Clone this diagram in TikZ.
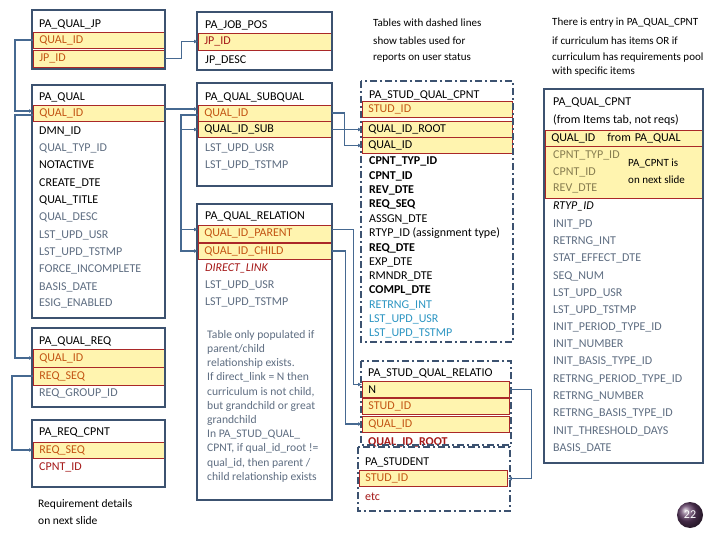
\documentclass[tikz,border=0pt]{standalone}
\usepackage{fontspec}
\setmainfont{Carlito}
\usepackage{xcolor}
\usetikzlibrary{arrows.meta,positioning,calc}
\definecolor{bk}{RGB}{0,0,0}
\definecolor{gy}{RGB}{95,110,130}
\definecolor{or}{RGB}{195,85,20}
\definecolor{dr}{RGB}{165,25,25}
\definecolor{tl}{RGB}{45,150,195}
\definecolor{ol}{RGB}{135,125,80}
\definecolor{bord}{RGB}{60,82,112}
\definecolor{keyfill}{RGB}{255,244,175}
\definecolor{keyln}{RGB}{170,40,40}
\definecolor{lnkc}{RGB}{70,105,145}
\definecolor{badge}{RGB}{95,60,100}
\newcommand{\BK}[1]{\textcolor{bk}{#1}}
\newcommand{\GY}[1]{\textcolor{gy}{#1}}
\newcommand{\OR}[1]{\textcolor{or}{#1}}
\newcommand{\DR}[1]{\textcolor{dr}{#1}}
\newcommand{\TL}[1]{\textcolor{tl}{#1}}
\newcommand{\OL}[1]{\textcolor{ol}{#1}}
\tikzset{
  tbl/.style={draw=bord,line width=2.2pt},
  dtbl/.style={draw=bord,line width=2.4pt,dash pattern=on 7pt off 3pt on 2pt off 3pt},
  key/.style={draw=keyln,fill=keyfill,line width=0.8pt,anchor=west,minimum height=16pt,
    inner xsep=6pt,inner ysep=0pt,text width=#1,align=left},
  fld/.style={anchor=west,inner sep=0pt},
  note/.style={anchor=west,inner sep=0pt,font=\fontsize{11}{13}\selectfont},
  lnk/.style={draw=lnkc,line width=1.3pt,-{Latex[length=4pt,width=4pt]}},
}

\begin{document}
\begin{tikzpicture}[x=1pt,y=-1pt,font=\fontsize{12}{14}\selectfont]
  \useasboundingbox (0,0) rectangle (720,540);
  \fill[white] (0,0) rectangle (720,540);

  % notes on top
  \node[note] (n1) at (373,23) {Tables with dashed lines};
  \node[note] (n2) at (373,41) {show tables used for};
  \node[note] (n3) at (373,58) {reports on user status};
  \node[note] (n4) at (552,23) {There is entry in PA\_QUAL\_CPNT};
  \node[note] (n5) at (552,41) {if curriculum has items OR if};
  \node[note] (n6) at (552,58) {curriculum has requirements pool};
  \node[note] (n7) at (552,72) {with specific items};

  % PA_QUAL_JP
  \node[key=119pt] (jpQual) at (33,40) {\OR{QUAL\_ID}};
  \node[key=119pt,minimum height=17pt] (jpJp) at (33,58.5) {\OR{JP\_ID}};
  \draw[tbl] (32,10) rectangle (165,69);
  \node[fld] (jpT) at (39,24) {PA\_QUAL\_JP};

  % PA_QUAL
  \node[key=119pt] (qQual) at (33,113) {\OR{QUAL\_ID}};
  \draw[tbl] (32,85) rectangle (165,318);
  \node[fld] (qT) at (39,97) {PA\_QUAL};
  \node[fld] (q1) at (39,131) {\BK{DMN\_ID}};
  \node[fld] (q2) at (39,148) {\GY{QUAL\_TYP\_ID}};
  \node[fld] (q3) at (39,165) {\BK{NOTACTIVE}};
  \node[fld] (q4) at (39,183) {\BK{CREATE\_DTE}};
  \node[fld] (q5) at (39,200) {\BK{QUAL\_TITLE}};
  \node[fld] (q6) at (39,217) {\GY{QUAL\_DESC}};
  \node[fld] (q7) at (39,235) {\GY{LST\_UPD\_USR}};
  \node[fld] (q8) at (39,252) {\GY{LST\_UPD\_TSTMP}};
  \node[fld] (q9) at (39,269) {\GY{FORCE\_INCOMPLETE}};
  \node[fld] (q10) at (39,287) {\GY{BASIS\_DATE}};
  \node[fld] (q11) at (39,303) {\GY{ESIG\_ENABLED}};

  % PA_QUAL_REQ
  \node[key=119pt,minimum height=18pt] (rqQual) at (33,358) {\OR{QUAL\_ID}};
  \node[key=119pt,minimum height=18pt] (rqSeq) at (33,376) {\OR{REQ\_SEQ}};
  \draw[tbl] (32,328) rectangle (165,407);
  \node[fld] (rqT) at (39,341) {PA\_QUAL\_REQ};
  \node[fld] (rq1) at (39,393) {\GY{REQ\_GROUP\_ID}};

  % PA_REQ_CPNT
  \node[key=119pt] (rcSeq) at (33,450) {\OR{REQ\_SEQ}};
  \draw[tbl] (32,420) rectangle (165,487);
  \node[fld] (rcT) at (39,432) {PA\_REQ\_CPNT};
  \node[fld] (rc1) at (39,467) {\DR{CPNT\_ID}};
  \node[note,font=\fontsize{11.5}{13}\selectfont] (rcN1) at (38,504) {Requirement details};
  \node[note,font=\fontsize{11.5}{13}\selectfont] (rcN2) at (38,521) {on next slide};

  % PA_JOB_POS
  \node[key=121pt,minimum height=17pt] (jbJp) at (198,41.5) {\DR{JP\_ID}};
  \draw[tbl] (197,12) rectangle (332,70);
  \node[fld] (jbT) at (205,25) {PA\_JOB\_POS};
  \node[fld] (jb1) at (205,60) {\BK{JP\_DESC}};

  % PA_QUAL_SUBQUAL
  \node[key=121pt] (sqQual) at (198,113) {\OR{QUAL\_ID}};
  \node[key=121pt] (sqSub) at (198,129.5) {\BK{QUAL\_ID\_SUB}};
  \draw[tbl] (197,83) rectangle (332,186);
  \node[fld] (sqT) at (205,97) {PA\_QUAL\_SUBQUAL};
  \node[fld] (sq1) at (205,148) {\GY{LST\_UPD\_USR}};
  \node[fld] (sq2) at (205,165) {\GY{LST\_UPD\_TSTMP}};

  % PA_QUAL_RELATION
  \node[key=121pt,minimum height=17pt] (srParent) at (198,233.5) {\OR{QUAL\_ID\_PARENT}};
  \node[key=121pt] (srChild) at (198,251) {\OR{QUAL\_ID\_CHILD}};
  \draw[tbl] (197,204) rectangle (332,500);
  \node[fld] (srT) at (205,216) {PA\_QUAL\_RELATION};
  \node[fld] (sr1) at (205,268) {\DR{\itshape DIRECT\_LINK}};
  \node[fld] (sr2) at (205,285) {\GY{LST\_UPD\_USR}};
  \node[fld] (sr3) at (205,302) {\GY{LST\_UPD\_TSTMP}};
  \node[fld,anchor=north west,align=left,text=gy,font=\fontsize{11.6}{14.2}\selectfont] (srNote) at (207,330)
    {Table only populated if\\parent/child\\relationship exists.\\If direct\_link = N then\\curriculum is not child,\\but grandchild or great\\grandchild\\In PA\_STUD\_QUAL\_\\CPNT, if qual\_id\_root !=\\qual\_id, then parent /\\child relationship exists};

  % PA_STUD_QUAL_CPNT
  \node[key=138pt] (scStud) at (362,109.5) {\OR{STUD\_ID}};
  \node[key=138pt] (scRoot) at (362,129) {\BK{QUAL\_ID\_ROOT}};
  \node[key=138pt] (scQual) at (362,145.5) {\BK{QUAL\_ID}};
  \draw[dtbl] (361,81) rectangle (513,342);
  \node[fld] (scT) at (369,95) {PA\_STUD\_QUAL\_CPNT};
  \node[fld,font=\fontsize{12}{14}\bfseries] (sc1) at (369,161) {CPNT\_TYP\_ID};
  \node[fld,font=\fontsize{12}{14}\bfseries] (sc2) at (369,176) {CPNT\_ID};
  \node[fld,font=\fontsize{12}{14}\bfseries] (sc3) at (369,190) {REV\_DTE};
  \node[fld,font=\fontsize{12}{14}\bfseries] (sc4) at (369,204) {REQ\_SEQ};
  \node[fld] (sc5) at (369,219) {ASSGN\_DTE};
  \node[fld] (sc6) at (369,233) {RTYP\_ID (assignment type)};
  \node[fld,font=\fontsize{12}{14}\bfseries] (sc7) at (369,248) {REQ\_DTE};
  \node[fld] (sc8) at (369,262) {EXP\_DTE};
  \node[fld] (sc9) at (369,276) {RMNDR\_DTE};
  \node[fld,font=\fontsize{12}{14}\bfseries] (sc10) at (369,290) {COMPL\_DTE};
  \node[fld] (sc11) at (369,305) {\TL{RETRNG\_INT}};
  \node[fld] (sc12) at (369,319) {\TL{LST\_UPD\_USR}};
  \node[fld] (sc13) at (369,333) {\TL{LST\_UPD\_TSTMP}};

  % PA_STUD_QUAL_RELATIO
  \node[key=135pt] (rlN) at (362,389.5) {\BK{N}};
  \node[key=135pt] (rlStud) at (362,406.5) {\OR{STUD\_ID}};
  \node[key=135pt] (rlQual) at (362,424) {\OR{QUAL\_ID}};
  \node[fld] (rl1) at (368,442) {\DR{\bfseries QUAL\_ID\_ROOT}};
  \draw[dtbl] (361,361) rectangle (511,445);
  \node[fld] (rlT) at (368,373) {PA\_STUD\_QUAL\_RELATIO};

  % PA_STUDENT
  \node[key=136pt] (stStud) at (359,478.5) {\OR{STUD\_ID}};
  \draw[dtbl] (358,447) rectangle (510,511);
  \node[fld] (stT) at (365,462) {PA\_STUDENT};
  \node[fld] (st1) at (365,497) {\DR{etc}};

  % PA_QUAL_CPNT
  \node[key=145pt] (qcQual) at (545,138) {\BK{QUAL\_ID\quad from PA\_QUAL}};
  \node[key=145pt,minimum height=52pt,anchor=north west] (qcCpnt) at (545,146) {};
  \draw[tbl] (544,89) rectangle (703,463);
  \node[fld] (qcT) at (553,102) {PA\_QUAL\_CPNT};
  \node[fld] (qcS) at (553,120) {(from Items tab, not reqs)};
  \node[fld] (qc1) at (553,155) {\OL{CPNT\_TYP\_ID}};
  \node[fld] (qc2) at (553,172) {\OL{CPNT\_ID}};
  \node[fld] (qc3) at (553,188) {\OL{REV\_DTE}};
  \node[note] (qcN1) at (628,163) {PA\_CPNT is};
  \node[note] (qcN2) at (628,180) {on next slide};
  \node[fld] (qc4) at (553,206) {\BK{\itshape RTYP\_ID}};
  \node[fld] (qc5) at (553,224) {\GY{INIT\_PD}};
  \node[fld] (qc6) at (553,241) {\GY{RETRNG\_INT}};
  \node[fld] (qc7) at (553,258) {\GY{STAT\_EFFECT\_DTE}};
  \node[fld] (qc8) at (553,276) {\GY{SEQ\_NUM}};
  \node[fld] (qc9) at (553,293) {\GY{LST\_UPD\_USR}};
  \node[fld] (qc10) at (553,310) {\GY{LST\_UPD\_TSTMP}};
  \node[fld] (qc11) at (553,327) {\GY{INIT\_PERIOD\_TYPE\_ID}};
  \node[fld] (qc12) at (553,344) {\GY{INIT\_NUMBER}};
  \node[fld] (qc13) at (553,361) {\GY{INIT\_BASIS\_TYPE\_ID}};
  \node[fld] (qc14) at (553,379) {\GY{RETRNG\_PERIOD\_TYPE\_ID}};
  \node[fld] (qc15) at (553,396) {\GY{RETRNG\_NUMBER}};
  \node[fld] (qc16) at (553,413) {\GY{RETRNG\_BASIS\_TYPE\_ID}};
  \node[fld] (qc17) at (553,431) {\GY{INIT\_THRESHOLD\_DAYS}};
  \node[fld] (qc18) at (553,448) {\GY{BASIS\_DATE}};

  % links
  \draw[lnk] (jpQual.west) -- ++(-18,0) |- ([yshift=2pt]qQual.west);
  \draw[lnk] ([yshift=-2pt]qQual.west) -- ++(-18,0) |- (rqQual.west);
  \draw[lnk] (rqSeq.west) -- ++(-21,0) |- (rcSeq.west);
  \draw[lnk] (jpJp.east) -- ++(17,0) |- (jbJp.west);
  \draw[lnk] ([yshift=4pt]qQual.east) -- ([yshift=4pt]sqQual.west);
  \draw[lnk] ([yshift=-2pt]sqQual.west) -- ++(-17,0) |- (sqSub.west);
  \draw[lnk] ([yshift=-2pt]sqQual.west) -- ++(-17,0) |- ([yshift=4pt]srParent.west);
  \draw[lnk] ([yshift=-2pt]sqQual.west) -- ++(-17,0) |- (srChild.west);
  \draw[lnk] (sqQual.east) -- ++(13,0) |- (scQual.west);
  \draw[lnk] (sqSub.east) -- (sqSub.east -| scRoot.west);
  \draw[lnk] ([yshift=4pt]srParent.east) -- ++(22,0) |- ([yshift=5pt]rlN.west);
  \draw[lnk] (srChild.east) -- ++(14,0) |- (rlQual.west);
  \draw[lnk] (rlN.east) -- ++(22,0) |- (stStud.east);

  % page number
  \node[circle,ball color=badge,text=white,minimum size=26pt,inner sep=0pt] (pg) at (690,515) {22};
\end{tikzpicture}
\end{document}
